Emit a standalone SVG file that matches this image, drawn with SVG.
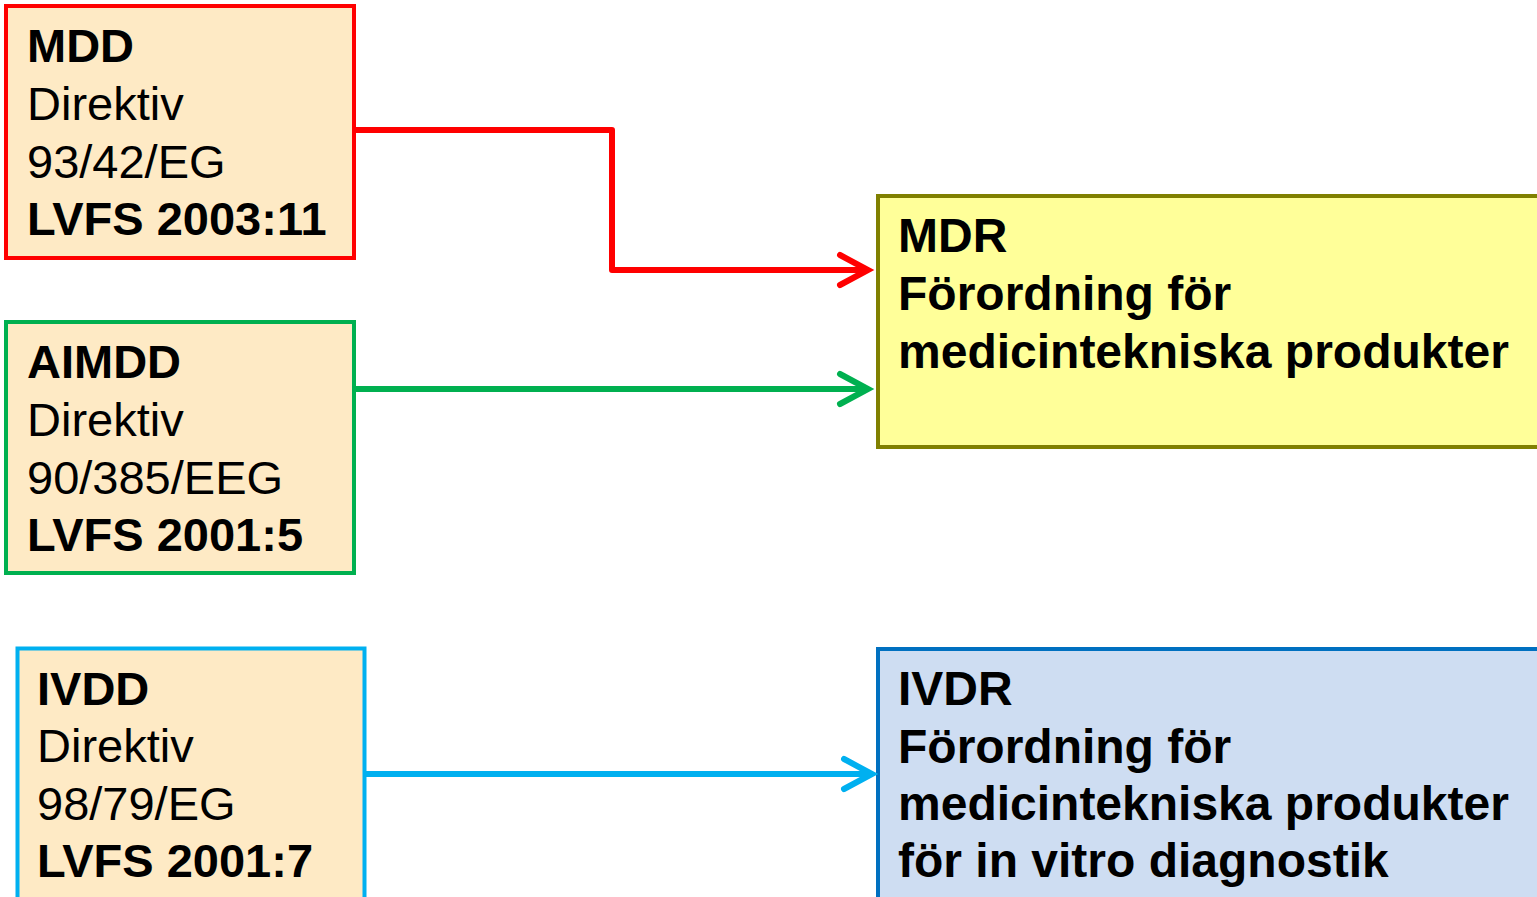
<svg xmlns="http://www.w3.org/2000/svg" width="1537" height="897" viewBox="0 0 1537 897">
<style>
.t{font-family:"Liberation Sans",Arial,sans-serif;font-size:48px;fill:#000}
.s{font-size:47px}
.b{font-weight:bold}
.box{stroke-width:4}
.src{fill:#FEEAC5}
.c{fill:none;stroke-width:6;stroke-linejoin:round}
.ah{fill:none;stroke-width:6;stroke-linecap:round;stroke-linejoin:miter}
</style>
<rect width="1537" height="897" fill="#fff"/>
<g id="MDD">
<rect class="box src" x="6" y="6" width="348" height="252" stroke="#FF0000"/>
<text class="t s b" x="27" y="62">MDD</text>
<text class="t s" x="27" y="120">Direktiv</text>
<text class="t s" x="27" y="178">93/42/EG</text>
<text class="t s b" x="27" y="235">LVFS 2003:11</text>
</g>
<g id="AIMDD">
<rect class="box src" x="6" y="322" width="348" height="251" stroke="#00B050"/>
<text class="t s b" x="27" y="378">AIMDD</text>
<text class="t s" x="27" y="436">Direktiv</text>
<text class="t s" x="27" y="494">90/385/EEG</text>
<text class="t s b" x="27" y="551">LVFS 2001:5</text>
</g>
<g id="IVDD">
<rect class="box src" x="17.5" y="648.5" width="347" height="260" stroke="#00B0F0"/>
<text class="t s b" x="37" y="705">IVDD</text>
<text class="t s" x="37" y="762">Direktiv</text>
<text class="t s" x="37" y="820">98/79/EG</text>
<text class="t s b" x="37" y="877">LVFS 2001:7</text>
</g>
<g id="MDR">
<rect class="box" x="878" y="196" width="670" height="251" fill="#FFFF99" stroke="#808000"/>
<text class="t b" x="898" y="252">MDR</text>
<text class="t b" x="898" y="310">Förordning för</text>
<text class="t b" x="898" y="368">medicintekniska produkter</text>
</g>
<g id="IVDR">
<rect class="box" x="878" y="649" width="670" height="260" fill="#CEDDF2" stroke="#0070C0"/>
<text class="t b" x="898" y="705">IVDR</text>
<text class="t b" x="898" y="763">Förordning för</text>
<text class="t b" x="898" y="820">medicintekniska produkter</text>
<text class="t b" x="898" y="877">för in vitro diagnostik</text>
</g>
<g id="connectors">
<polyline class="c" points="356,130 612,130 612,270 866,270" stroke="#FF0000"/>
<polyline class="ah" points="840,255 868,270 840,285" stroke="#FF0000"/>
<line class="c" x1="356" y1="389" x2="866" y2="389" stroke="#00B050"/>
<polyline class="ah" points="840,374 868,389 840,404" stroke="#00B050"/>
<line class="c" x1="366" y1="774" x2="870" y2="774" stroke="#00B0F0"/>
<polyline class="ah" points="844,759 872,774 844,789" stroke="#00B0F0"/>
</g>
</svg>
